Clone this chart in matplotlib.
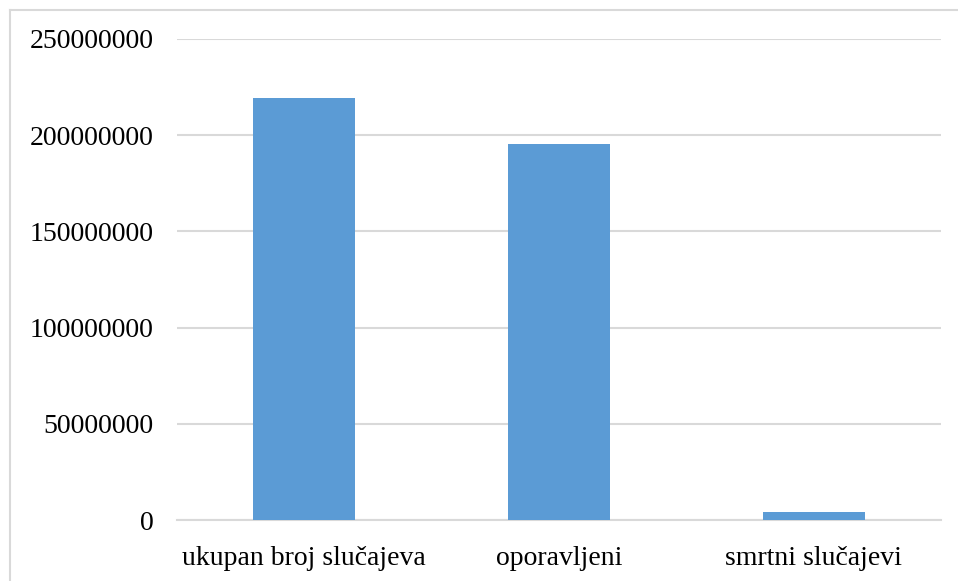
"""Bar chart: COVID case totals."""

import matplotlib
matplotlib.use("Agg")
import matplotlib.pyplot as plt
from matplotlib.lines import Line2D
from matplotlib.ticker import FuncFormatter

categories = ["ukupan broj slučajeva", "oporavljeni", "smrtni slučajevi"]
values = [219200000, 195400000, 4100000]
y_ticks = [0, 50000000, 100000000, 150000000, 200000000, 250000000]

BAR_COLOR = "#5b9bd5"
GRID_COLOR = "#d9d9d9"

plt.rcParams["font.family"] = ["Liberation Serif", "DejaVu Serif"]

W, H = 958, 581
fig = plt.figure(figsize=(W / 100, H / 100), dpi=100, facecolor="white")
ax = fig.add_axes([177 / W, (H - 520) / H, (941 - 177) / W, (520 - 39) / H])

x = range(len(categories))
ax.bar(x, values, width=0.4, color=BAR_COLOR, zorder=3)

ax.set_xlim(-0.5, len(categories) - 0.5)
ax.set_ylim(0, 250000000)
ax.set_yticks(y_ticks)
ax.yaxis.set_major_formatter(FuncFormatter(lambda v, _: f"{v:.0f}"))
ax.set_xticks(list(x))
ax.set_xticklabels(categories)

ax.grid(axis="y", color=GRID_COLOR, linewidth=1.5, zorder=0)
ax.grid(axis="x", visible=False)
ax.tick_params(axis="both", length=0, labelsize=20, colors="black")
ax.tick_params(axis="y", pad=17)
ax.tick_params(axis="x", pad=19)

for spine in ["top", "right", "left"]:
    ax.spines[spine].set_visible(False)
ax.spines["bottom"].set_color(GRID_COLOR)
ax.spines["bottom"].set_linewidth(1.5)

# chart frame (only top and left edges are visible in the crop)
fig.add_artist(Line2D([10 / W, 1], [1 - 10 / H, 1 - 10 / H], color=GRID_COLOR,
                      linewidth=1.5, transform=fig.transFigure))
fig.add_artist(Line2D([10 / W, 10 / W], [0, 1 - 10 / H], color=GRID_COLOR,
                      linewidth=1.5, transform=fig.transFigure))

fig.savefig("out.png", dpi=100, facecolor="white")
plt.close()
